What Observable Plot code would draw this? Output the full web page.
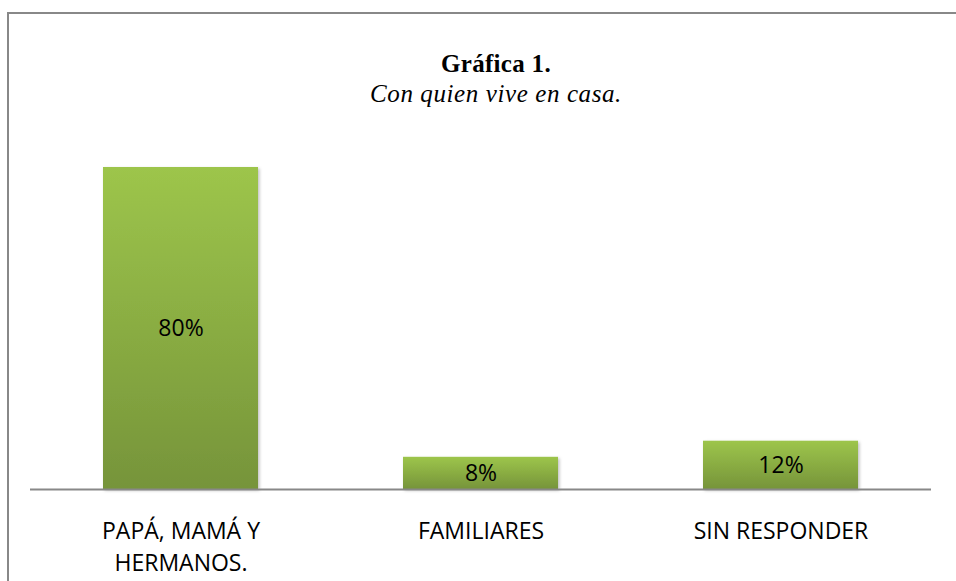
<!DOCTYPE html>
<html>
<head>
<meta charset="utf-8">
<script src="https://cdn.jsdelivr.net/npm/d3@7"></script>
<script src="https://cdn.jsdelivr.net/npm/@observablehq/plot@0.6"></script>
<style>
  html, body { margin: 0; padding: 0; background: #fff; width: 956px; height: 581px; overflow: hidden; }
  #frame { position: absolute; left: 7px; top: 12px; width: 1000px; height: 600px; border-left: 2px solid #888; border-top: 2px solid #888; }
  #title { position: absolute; left: 0; width: 992px; top: 50px; text-align: center; font-family: "Liberation Serif", "DejaVu Serif", serif; font-weight: bold; font-size: 25px; letter-spacing: 0.3px; color: #000; }
  #subtitle { position: absolute; left: 0; width: 992px; top: 80px; text-align: center; font-family: "Liberation Serif", "DejaVu Serif", serif; font-style: italic; font-size: 25px; letter-spacing: 0.6px; color: #000; }
  #chart { position: absolute; left: 0; top: 125px; }
</style>
</head>
<body>
<div id="frame"></div>
<div id="title">Gráfica 1.</div>
<div id="subtitle">Con quien vive en casa.</div>
<div id="chart"></div>
<script>
const categories = ["PAPÁ, MAMÁ Y\nHERMANOS.", "FAMILIARES", "SIN RESPONDER"];
const values = [80, 8, 12];
const data = categories.map((c, i) => ({category: c, value: values[i]}));

const defs = () => {
  const g = d3.create("svg:defs");
  const lg = g.append("linearGradient").attr("id", "barGrad").attr("x1", 0).attr("y1", 0).attr("x2", 0).attr("y2", 1);
  lg.append("stop").attr("offset", "0%").attr("stop-color", "#9dc54b");
  lg.append("stop").attr("offset", "100%").attr("stop-color", "#76943a");
  const f = g.append("filter").attr("id", "barShadow").attr("x", "-10%").attr("y", "-10%").attr("width", "130%").attr("height", "130%");
  f.append("feDropShadow").attr("dx", 1.5).attr("dy", 1.5).attr("stdDeviation", 1.5).attr("flood-color", "#000").attr("flood-opacity", 0.25);
  return g.node();
};

const chart = Plot.plot({
  width: 956,
  height: 456,
  marginLeft: 30,
  marginRight: 25,
  marginTop: 42,
  marginBottom: 92,
  style: {fontFamily: "'Open Sans', sans-serif", background: "transparent", overflow: "visible"},
  x: {domain: categories, paddingInner: 0.484, paddingOuter: 0.24, label: null},
  y: {domain: [0, 80], axis: null, label: null},
  marks: [
    defs,
    Plot.barY(data, {x: "category", y: "value", fill: "url(#barGrad)"}),
    Plot.ruleY([0], {stroke: "#888", strokeWidth: 2}),
    Plot.text(data, {x: "category", y: d => d.value / 2, text: d => d.value + "%", fontSize: 23, fill: "#000"}),
    Plot.axisX({tickSize: 0, tickPadding: 27, fontSize: 23, lineHeight: 1.38, fill: "#000", label: null})
  ]
});
chart.querySelectorAll("g[aria-label='bar'] rect").forEach(r => r.setAttribute("filter", "url(#barShadow)"));
document.getElementById("chart").appendChild(chart);
</script>
</body>
</html>
